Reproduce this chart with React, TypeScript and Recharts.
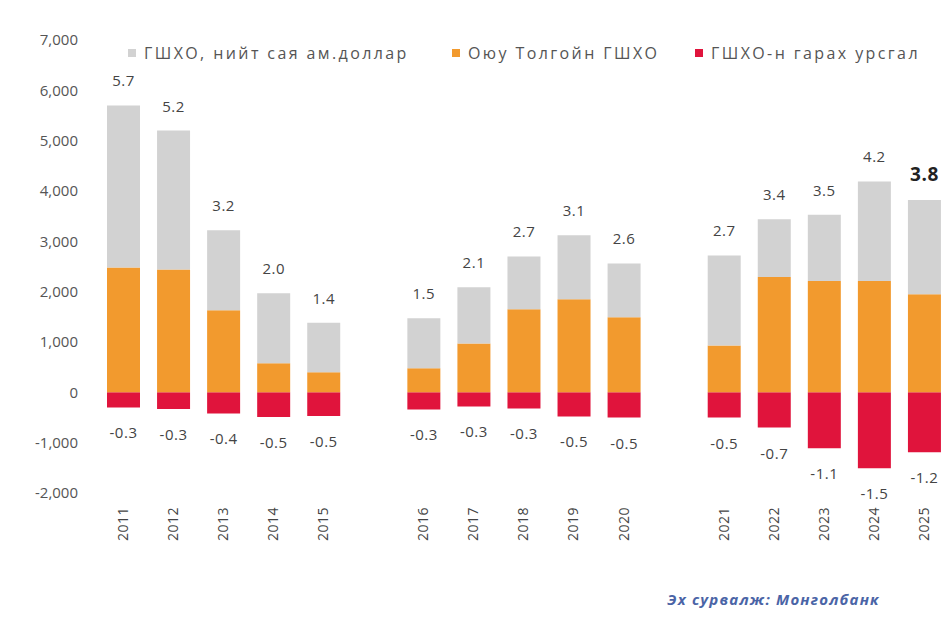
import { Bar, BarChart, LabelList, XAxis, YAxis } from "recharts";

// "" entries are the empty slots between the three groups of years
const categories = ["2011", "2012", "2013", "2014", "2015", "", "2016", "2017", "2018", "2019", "2020", "", "2021", "2022", "2023", "2024", "2025"];
// total FDI, million USD (top of the grey bar)
const totalFdi = [5700, 5200, 3220, 1970, 1380, null, 1470, 2090, 2700, 3120, 2560, null, 2720, 3440, 3530, 4190, 3820];
// Oyu Tolgoi FDI (orange part)
const oyuTolgoi = [2480, 2440, 1630, 580, 400, null, 480, 970, 1650, 1850, 1490, null, 930, 2290, 2210, 2210, 1950];
// FDI outflow (red, negative)
const outflow = [-300, -330, -420, -490, -470, null, -340, -280, -320, -480, -500, null, -500, -700, -1110, -1510, -1190];

const yTicks = [-2000, -1000, 0, 1000, 2000, 3000, 4000, 5000, 6000, 7000];

const GREY = "#d2d2d2";
const ORANGE = "#f29a2e";
const RED = "#e0143c";
const TEXT = "#555";
const FONT = "'Open Sans', sans-serif";

const lastTotal = totalFdi[totalFdi.length - 1];

const data = categories.map((year, i) => ({
  year,
  total: totalFdi[i],
  oyu: oyuTolgoi[i],
  rest: totalFdi[i] == null || oyuTolgoi[i] == null ? null : (totalFdi[i] as number) - (oyuTolgoi[i] as number),
  outflow: outflow[i],
}));

const fmt = (v: number) => (v / 1000).toFixed(1);

function TopLabel(props: any) {
  const { x, y, width, height, value } = props;
  if (value == null) return null;
  const top = Math.min(y, y + height);
  // latest year is highlighted in the original
  const last = value === lastTotal;
  return (
    <text
      x={x + width / 2}
      y={top - 19}
      textAnchor="middle"
      fontFamily={FONT}
      fontSize={last ? 19 : 15}
      fontWeight={last ? 700 : 400}
      fill={last ? "#222" : "#444"}
      letterSpacing={0.5}
    >
      {fmt(value)}
    </text>
  );
}

function BottomLabel(props: any) {
  const { x, y, width, height, value } = props;
  if (value == null) return null;
  const bottom = Math.max(y, y + height);
  return (
    <text x={x + width / 2} y={bottom + 31} textAnchor="middle" fontFamily={FONT} fontSize={15} fill="#444" letterSpacing={0.5}>
      {fmt(value)}
    </text>
  );
}

function YearTick(props: any) {
  const { x, payload } = props;
  return (
    <text
      x={x}
      y={507}
      dy="0.35em"
      transform={`rotate(-90, ${x}, 507)`}
      textAnchor="end"
      fontFamily={FONT}
      fontSize={14}
      fill="#444"
      letterSpacing={0.5}
    >
      {payload.value}
    </text>
  );
}

const legendItems = [
  { label: "ГШХО, нийт сая ам.доллар", color: GREY, left: 128 },
  { label: "Оюу Толгойн ГШХО", color: ORANGE, left: 452 },
  { label: "ГШХО-н гарах урсгал", color: RED, left: 695 },
];

export default function App() {
  return (
    <div style={{ position: "absolute", left: 0, top: 0, width: 952, height: 619, background: "#fff", fontFamily: FONT }}>
      <BarChart
        width={952}
        height={619}
        data={data}
        stackOffset="sign"
        barSize={33}
        margin={{ top: 40, right: 3, left: 0, bottom: 0 }}
      >
        <XAxis
          dataKey="year"
          axisLine={false}
          tickLine={false}
          interval={0}
          height={126}
          tick={<YearTick />}
        />
        <YAxis
          width={98}
          domain={[-2000, 7000]}
          ticks={yTicks}
          axisLine={false}
          tickLine={false}
          tickSize={0}
          tickMargin={20}
          tickFormatter={(v: number) => v.toLocaleString("en-US")}
          tick={{ fontFamily: FONT, fontSize: 15, fill: TEXT }}
        />
        <Bar dataKey="outflow" stackId="a" fill={RED} isAnimationActive={false}>
          <LabelList dataKey="outflow" content={<BottomLabel />} />
        </Bar>
        <Bar dataKey="oyu" stackId="a" fill={ORANGE} isAnimationActive={false} />
        <Bar dataKey="rest" stackId="a" fill={GREY} isAnimationActive={false}>
          <LabelList dataKey="total" content={<TopLabel />} />
        </Bar>
      </BarChart>

      {legendItems.map((item) => (
        <div
          key={item.label}
          style={{
            position: "absolute",
            left: item.left,
            top: 42,
            display: "flex",
            alignItems: "center",
            fontSize: 16,
            letterSpacing: 2.4,
            color: TEXT,
            whiteSpace: "nowrap",
          }}
        >
          <span style={{ display: "inline-block", width: 8, height: 8, background: item.color, marginRight: 8 }} />
          {item.label}
        </div>
      ))}

      <div
        style={{
          position: "absolute",
          right: 72,
          top: 589,
          fontSize: 15,
          fontWeight: 700,
          fontStyle: "italic",
          letterSpacing: 1.2,
          color: "#4a64a6",
          whiteSpace: "nowrap",
        }}
      >
        Эх сурвалж: Монголбанк
      </div>
    </div>
  );
}
